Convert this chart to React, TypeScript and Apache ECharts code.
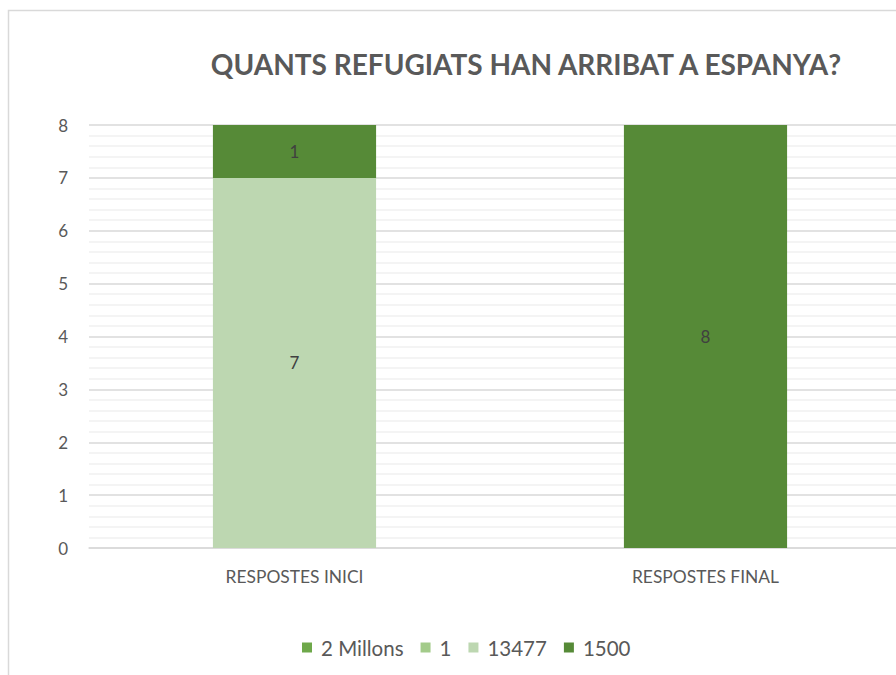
import React, { useEffect, useRef } from "react";
import * as echarts from "echarts";

const title = "QUANTS REFUGIATS HAN ARRIBAT A ESPANYA?";
const categories = ["RESPOSTES INICI", "RESPOSTES FINAL"];
const seriesNames = ["2 Millons", "1", "13477", "1500"];
const seriesColors = ["#6EA84A", "#A3CB8A", "#BDD7B1", "#568A37"];
const values2Millons = [0, 0];
const values1 = [0, 0];
const values13477 = [7, 0];
const values1500 = [1, 8];
const yTicks = [0, 1, 2, 3, 4, 5, 6, 7, 8];

export default function App() {
  const ref = useRef<HTMLDivElement>(null);
  useEffect(() => {
    document.body.style.margin = "0";
    document.body.style.overflow = "hidden";
    const chart = echarts.init(ref.current!, null, { renderer: "svg" });
    const allValues = [values2Millons, values1, values13477, values1500];
    chart.setOption({
      animation: false,
      backgroundColor: "#ffffff",
      textStyle: { fontFamily: "Lato" },
      title: {
        text: title,
        left: 521,
        textAlign: "center",
        top: 45,
        textStyle: { fontFamily: "Lato", fontSize: 28, fontWeight: "bold", color: "#595959" },
      },
      graphic: [
        {
          type: "rect",
          shape: { x: 8.5, y: 10.5, width: 1100, height: 800 },
          style: { fill: "none", stroke: "#d9d9d9", lineWidth: 1.5 },
          silent: true,
          z: -10,
        },
      ],
      legend: {
        bottom: 12,
        left: 297,
        itemWidth: 10,
        itemHeight: 10,
        itemGap: 17,
        icon: "rect",
        textStyle: { fontFamily: "Lato", fontSize: 20.5, color: "#595959", padding: [0, 0, 0, 4] },
        data: seriesNames,
      },
      grid: { left: 89, right: 0, top: 125, bottom: 127, containLabel: false },
      xAxis: {
        type: "category",
        data: categories,
        axisTick: { show: false },
        axisLine: { lineStyle: { color: "#d9d9d9", width: 1.5 } },
        axisLabel: { fontFamily: "Lato", fontSize: 17.4, color: "#595959", margin: 20 },
      },
      yAxis: {
        type: "value",
        min: yTicks[0],
        max: yTicks[yTicks.length - 1],
        interval: 1,
        axisLine: { show: false },
        axisTick: { show: false },
        axisLabel: { fontFamily: "Lato", fontSize: 17, color: "#595959", margin: 21 },
        splitLine: { lineStyle: { color: "#d9d9d9", width: 1.5 } },
        minorTick: { show: false, splitNumber: 5 },
        minorSplitLine: { show: true, lineStyle: { color: "#f0f0f0", width: 1.5 } },
      },
      series: seriesNames.map((name, i) => ({
        name,
        type: "bar",
        stack: "total",
        barWidth: "39.7%",
        data: allValues[i],
        itemStyle: { color: seriesColors[i] },
        label: {
          show: true,
          position: "inside",
          fontFamily: "Lato",
          fontSize: 17,
          color: "#404040",
          formatter: (p: any) => (p.value ? String(p.value) : ""),
        },
      })),
    });
    return () => chart.dispose();
  }, []);
  return <div ref={ref} style={{ width: 911, height: 675 }} />;
}
